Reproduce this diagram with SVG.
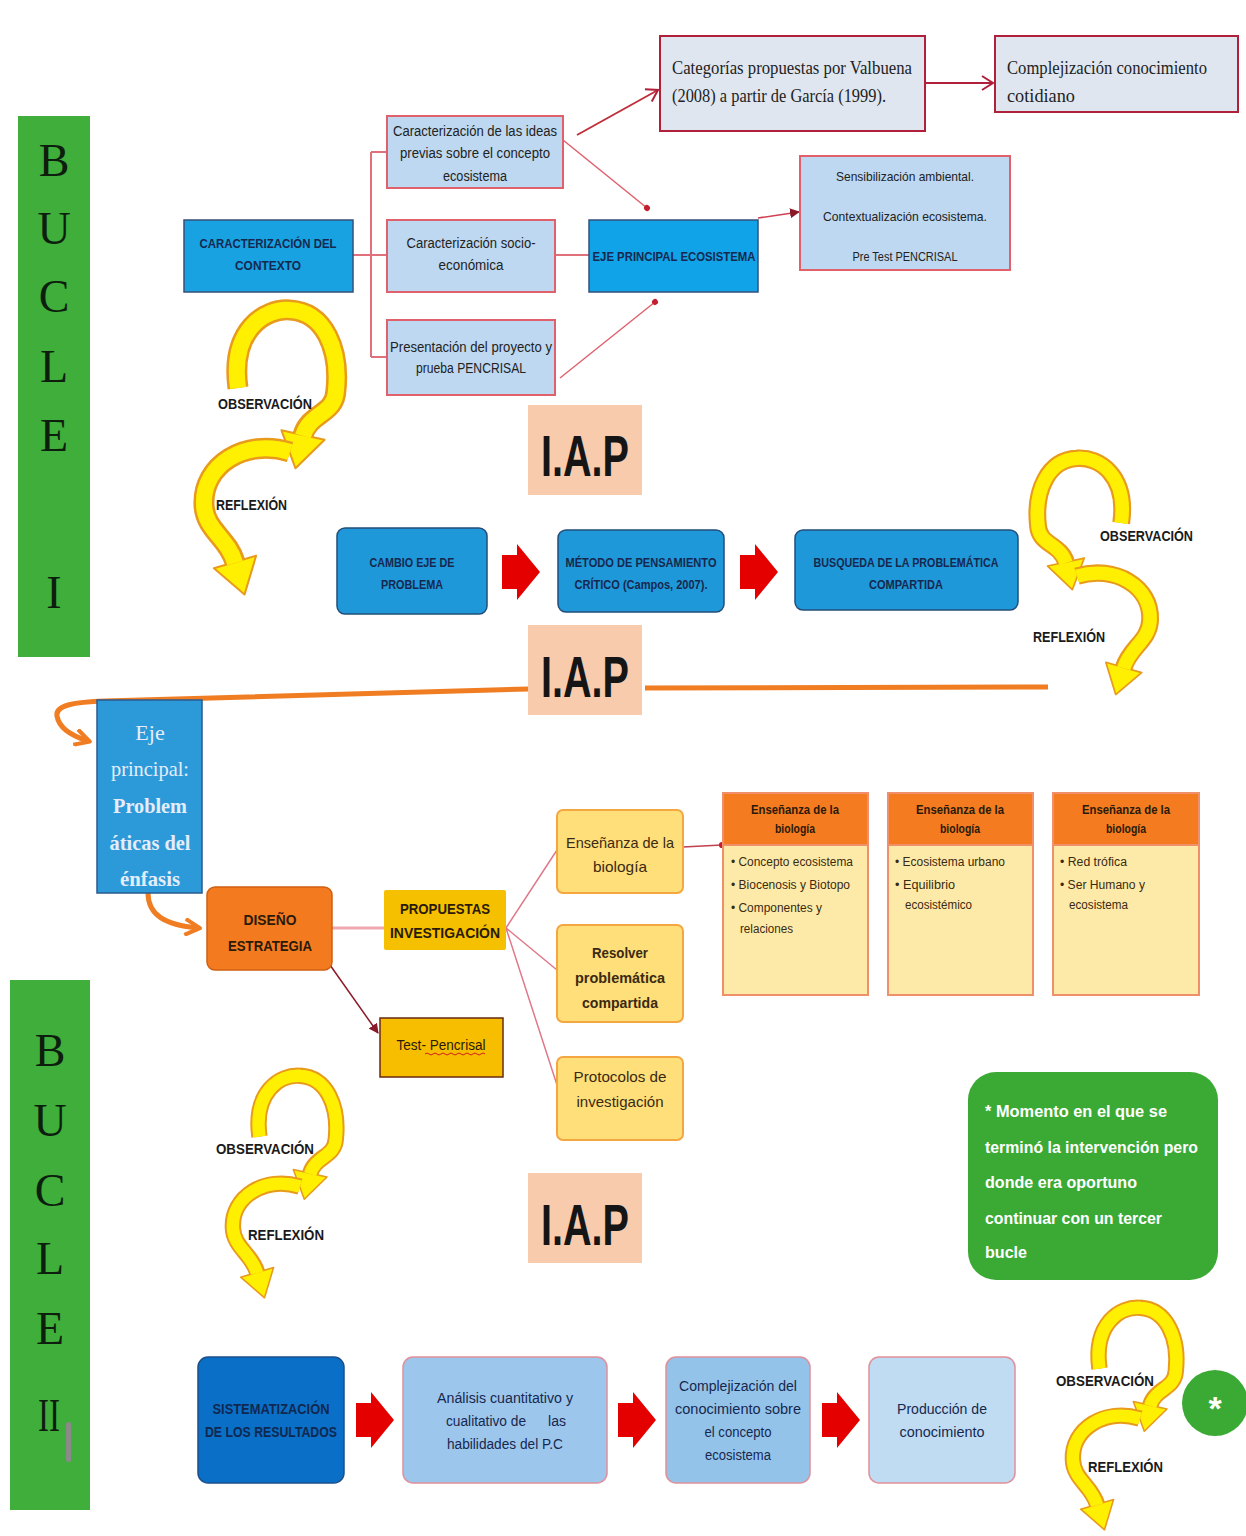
<svg xmlns="http://www.w3.org/2000/svg" width="1246" height="1536" viewBox="0 0 1246 1536">
<style>
.s{font-family:"Liberation Sans",Arial,sans-serif}
.r{font-family:"Liberation Serif","Times New Roman",serif}
.c{text-anchor:middle}
.b{font-weight:bold}
.navy{fill:#16284f}
.dk{fill:#222222}
.brn{fill:#3a2a12}
.lbl{font-family:"Liberation Sans",Arial,sans-serif;font-weight:bold;font-size:15px;fill:#1a1a1a}
.bucle{font-family:"Liberation Serif","Times New Roman",serif;font-size:46px;fill:#0e1e0e;text-anchor:middle}
.iap{font-family:"Liberation Sans",Arial,sans-serif;font-weight:bold;font-size:58px;fill:#151515;text-anchor:middle}
.lb{fill:#bdd8f0;stroke:#e0606c;stroke-width:2}
.bb{fill:#18a2e2;stroke:#35507a;stroke-width:1.5}
.rb{fill:#1e98d8;stroke:#234d7a;stroke-width:1.5}
.yb{fill:#ffdf7a;stroke:#f4a640;stroke-width:2}
.gc{fill:#dfe6f0;stroke:#b0203a;stroke-width:2}
.tree{fill:none;stroke:#e0707a;stroke-width:2}
.pk{fill:none;stroke:#e07888;stroke-width:1.5}
.org{fill:none;stroke:#f07d22;stroke-width:5}
.ol{fill:none;stroke:#e89a1c;stroke-width:21}
.yl{fill:none;stroke:#ffef00;stroke-width:16}
.ah{fill:#ffef00;stroke:#e89a1c;stroke-width:2;stroke-linejoin:round}
</style>
<defs>
<marker id="openArr" markerUnits="userSpaceOnUse" markerWidth="16" markerHeight="16" viewBox="0 0 16 16" refX="13" refY="8" orient="auto">
<path d="M2,1 L13,8 L2,15" fill="none" stroke="#b0203a" stroke-width="2"/>
</marker>
<marker id="dot" markerUnits="userSpaceOnUse" markerWidth="8" markerHeight="8" viewBox="0 0 8 8" refX="4" refY="4" orient="auto">
<circle cx="4" cy="4" r="3" fill="#c02030"/>
</marker>
<marker id="triR" markerUnits="userSpaceOnUse" markerWidth="10" markerHeight="10" viewBox="0 0 10 10" refX="9" refY="5" orient="auto">
<path d="M0,0 L10,5 L0,10 Z" fill="#8a1a2a"/>
</marker>
<marker id="triO" markerUnits="userSpaceOnUse" markerWidth="18" markerHeight="18" viewBox="0 0 18 18" refX="14" refY="9" orient="auto">
<path d="M1,1 L16,9 L1,17" fill="none" stroke="#f07d22" stroke-width="4" stroke-linejoin="round"/>
</marker>
<path id="redArrow" d="M0,11 H15 V0 L38,28 L15,56 V45 H0 Z" fill="#e50000"/>
<g id="cycle">
<path class="ol" d="M48,88 C40,30 75,8 100,10 C135,12 150,50 146,90 C145,115 120,112 113,135"/>
<polygon class="ah" points="134.6,139.8 105.5,168.3 91.4,130.2"/>
<path class="yl" d="M48,88 C40,30 75,8 100,10 C135,12 150,50 146,90 C145,115 120,112 113,136"/>
<path class="ol" d="M100,152 C55,138 12,165 14,205 C15,230 38,238 45,262"/>
<polygon class="ah" points="66.1,255.8 54.5,294.6 23.9,268.2"/>
<path class="yl" d="M100,152 C55,138 12,165 14,205 C15,230 38,238 45,263"/>
</g>
</defs>
<rect width="1246" height="1536" fill="#ffffff"/>

<g id="bucle1">
<rect x="18" y="116" width="72" height="541" fill="#3fae3a"/>
<text class="bucle" x="54" y="176">B</text>
<text class="bucle" x="54" y="244">U</text>
<text class="bucle" x="54" y="312">C</text>
<text class="bucle" x="54" y="382">L</text>
<text class="bucle" x="54" y="451">E</text>
<text class="bucle" x="54" y="608">I</text>
</g>
<g id="bucle2">
<rect x="10" y="980" width="80" height="530" fill="#3fae3a"/>
<text class="bucle" x="50" y="1066">B</text>
<text class="bucle" x="50" y="1136">U</text>
<text class="bucle" x="50" y="1206">C</text>
<text class="bucle" x="50" y="1274">L</text>
<text class="bucle" x="50" y="1344">E</text>
<text class="bucle" x="49" y="1431" textLength="22" lengthAdjust="spacingAndGlyphs">II</text>
<rect x="66" y="1422" width="5" height="40" rx="2" fill="#8a8a8a"/>
</g>

<g id="connectors">
<path class="tree" d="M353,255 H371 M371,152 V357 M371,152 H387 M371,255 H387 M371,357 H387 M555,255 H589"/>
<line x1="577" y1="135" x2="658" y2="90" stroke="#c0303a" stroke-width="2" marker-end="url(#openArr)"/>
<line x1="925" y1="83" x2="993" y2="83" stroke="#b0203a" stroke-width="2" marker-end="url(#openArr)"/>
<line x1="563" y1="140" x2="647" y2="208" stroke="#e0606c" stroke-width="1.5" marker-end="url(#dot)"/>
<line x1="560" y1="378" x2="655" y2="302" stroke="#e0606c" stroke-width="1.5" marker-end="url(#dot)"/>
<line x1="758" y1="218" x2="799" y2="212" stroke="#d04050" stroke-width="1.5" marker-end="url(#triR)"/>
<path class="org" d="M1048,687 L645,688"/>
<path class="org" d="M528,689 L105,701 C75,702 55,705 57,716 C59,728 72,736 88,741" marker-end="url(#triO)"/>
<path class="org" d="M148,893 C148,915 165,925 198,928" marker-end="url(#triO)"/>
<path d="M332,928 H384" fill="none" stroke="#f0a8b0" stroke-width="3"/>
<path class="pk" d="M506,928 L557,850 M506,928 L557,970 M506,928 L557,1085"/>
<line x1="683" y1="847" x2="722" y2="845" stroke="#c04050" stroke-width="1.5" marker-end="url(#dot)"/>
<line x1="330" y1="965" x2="378" y2="1033" stroke="#8a1a2a" stroke-width="1.5" marker-end="url(#triR)"/>
<use href="#redArrow" x="502" y="544"/>
<use href="#redArrow" x="740" y="544"/>
<use href="#redArrow" x="356" y="1392"/>
<use href="#redArrow" x="618" y="1392"/>
<use href="#redArrow" x="822" y="1392"/>
</g>

<g id="n_contexto">
<rect class="bb" x="184" y="220" width="169" height="72"/>
<text class="s b c navy" font-size="13" x="268" y="248" textLength="137" lengthAdjust="spacingAndGlyphs">CARACTERIZACIÓN DEL</text>
<text class="s b c navy" font-size="13" x="268" y="270" textLength="66" lengthAdjust="spacingAndGlyphs">CONTEXTO</text>
</g>
<g id="n_ideas">
<rect class="lb" x="387" y="116" width="176" height="72"/>
<text class="s c dk" font-size="14" x="475" y="136" textLength="164" lengthAdjust="spacingAndGlyphs">Caracterización de las ideas</text>
<text class="s c dk" font-size="14" x="475" y="158" textLength="150" lengthAdjust="spacingAndGlyphs">previas sobre el concepto</text>
<text class="s c dk" font-size="14" x="475" y="181" textLength="64" lengthAdjust="spacingAndGlyphs">ecosistema</text>
</g>
<g id="n_socio">
<rect class="lb" x="387" y="220" width="168" height="72"/>
<text class="s c dk" font-size="14" x="471" y="248" textLength="129" lengthAdjust="spacingAndGlyphs">Caracterización socio-</text>
<text class="s c dk" font-size="14" x="471" y="270" textLength="65" lengthAdjust="spacingAndGlyphs">económica</text>
</g>
<g id="n_presentacion">
<rect class="lb" x="387" y="320" width="168" height="75"/>
<text class="s c dk" font-size="14" x="471" y="352" textLength="162" lengthAdjust="spacingAndGlyphs">Presentación del proyecto y</text>
<text class="s c dk" font-size="14" x="471" y="373" textLength="110" lengthAdjust="spacingAndGlyphs">prueba PENCRISAL</text>
</g>
<g id="n_eje_eco">
<rect class="bb" x="589" y="220" width="169" height="72" style="fill:#10a3e8"/>
<text class="s b c navy" font-size="13" x="674" y="261" textLength="163" lengthAdjust="spacingAndGlyphs">EJE PRINCIPAL ECOSISTEMA</text>
</g>
<g id="n_sensibilizacion">
<rect class="lb" x="800" y="156" width="210" height="114"/>
<text class="s c dk" font-size="13" x="905" y="181" textLength="138" lengthAdjust="spacingAndGlyphs">Sensibilización ambiental.</text>
<text class="s c dk" font-size="13" x="905" y="221" textLength="164" lengthAdjust="spacingAndGlyphs">Contextualización ecosistema.</text>
<text class="s c dk" font-size="13" x="905" y="261" textLength="105" lengthAdjust="spacingAndGlyphs">Pre Test PENCRISAL</text>
</g>
<g id="n_categorias">
<rect class="gc" x="660" y="36" width="265" height="95"/>
<text class="r dk" font-size="19" x="672" y="74" textLength="240" lengthAdjust="spacingAndGlyphs">Categorías propuestas por Valbuena</text>
<text class="r dk" font-size="19" x="672" y="102" textLength="214" lengthAdjust="spacingAndGlyphs">(2008) a partir de García (1999).</text>
</g>
<g id="n_complejizacion_cot">
<rect class="gc" x="995" y="36" width="243" height="76"/>
<text class="r dk" font-size="19" x="1007" y="74" textLength="200" lengthAdjust="spacingAndGlyphs">Complejización conocimiento</text>
<text class="r dk" font-size="19" x="1007" y="102" textLength="68" lengthAdjust="spacingAndGlyphs">cotidiano</text>
</g>

<g id="cycle1">
<use href="#cycle" transform="translate(190,300)"/>
<text class="lbl" x="218" y="409" textLength="94" lengthAdjust="spacingAndGlyphs">OBSERVACIÓN</text>
<text class="lbl" x="216" y="510" textLength="71" lengthAdjust="spacingAndGlyphs">REFLEXIÓN</text>
</g>
<g id="cycle2">
<use href="#cycle" transform="translate(1162,450) scale(-0.85,0.83)"/>
<text class="lbl" x="1100" y="541" textLength="93" lengthAdjust="spacingAndGlyphs">OBSERVACIÓN</text>
<text class="lbl" x="1033" y="642" textLength="72" lengthAdjust="spacingAndGlyphs">REFLEXIÓN</text>
</g>
<g id="cycle3">
<use href="#cycle" transform="translate(222,1068) scale(0.78)"/>
<text class="lbl" x="216" y="1154" textLength="98" lengthAdjust="spacingAndGlyphs">OBSERVACIÓN</text>
<text class="lbl" x="248" y="1240" textLength="76" lengthAdjust="spacingAndGlyphs">REFLEXIÓN</text>
</g>
<g id="cycle4">
<use href="#cycle" transform="translate(1062,1300) scale(0.78)"/>
<text class="lbl" x="1056" y="1386" textLength="98" lengthAdjust="spacingAndGlyphs">OBSERVACIÓN</text>
<text class="lbl" x="1088" y="1472" textLength="75" lengthAdjust="spacingAndGlyphs">REFLEXIÓN</text>
</g>

<g id="iap1">
<rect x="528" y="405" width="114" height="90" fill="#f8cbad"/>
<text class="iap" x="585" y="476" textLength="88" lengthAdjust="spacingAndGlyphs">I.A.P</text>
</g>
<g id="iap2">
<rect x="528" y="625" width="114" height="90" fill="#f8cbad"/>
<text class="iap" x="585" y="697" textLength="88" lengthAdjust="spacingAndGlyphs">I.A.P</text>
</g>
<g id="iap3">
<rect x="528" y="1173" width="114" height="90" fill="#f8cbad"/>
<text class="iap" x="585" y="1245" textLength="88" lengthAdjust="spacingAndGlyphs">I.A.P</text>
</g>

<g id="n_cambio">
<rect class="rb" x="337" y="528" width="150" height="86" rx="8"/>
<text class="s b c navy" font-size="12" x="412" y="567" textLength="85" lengthAdjust="spacingAndGlyphs">CAMBIO EJE DE</text>
<text class="s b c navy" font-size="12" x="412" y="589" textLength="62" lengthAdjust="spacingAndGlyphs">PROBLEMA</text>
</g>
<g id="n_metodo">
<rect class="rb" x="558" y="530" width="166" height="82" rx="8"/>
<text class="s b c navy" font-size="12" x="641" y="567" textLength="151" lengthAdjust="spacingAndGlyphs">MÉTODO DE PENSAMIENTO</text>
<text class="s b c navy" font-size="12" x="641" y="589" textLength="133" lengthAdjust="spacingAndGlyphs">CRÍTICO (Campos, 2007).</text>
</g>
<g id="n_busqueda">
<rect class="rb" x="795" y="530" width="223" height="80" rx="8"/>
<text class="s b c navy" font-size="12" x="906" y="567" textLength="185" lengthAdjust="spacingAndGlyphs">BUSQUEDA DE LA PROBLEMÁTICA</text>
<text class="s b c navy" font-size="12" x="906" y="589" textLength="74" lengthAdjust="spacingAndGlyphs">COMPARTIDA</text>
</g>

<g id="n_eje_principal">
<rect x="97" y="700" width="105" height="193" fill="#2c9ad9" stroke="#2a5a90" stroke-width="1.5"/>
<text class="r c" fill="#e4edf9" font-size="22" x="150" y="740">Eje</text>
<text class="r c" fill="#e4edf9" font-size="22" x="150" y="776" textLength="78" lengthAdjust="spacingAndGlyphs">principal:</text>
<text class="r b c" fill="#e4edf9" font-size="22" x="150" y="813" textLength="74" lengthAdjust="spacingAndGlyphs">Problem</text>
<text class="r b c" fill="#e4edf9" font-size="22" x="150" y="850" textLength="81" lengthAdjust="spacingAndGlyphs">áticas del</text>
<text class="r b c" fill="#e4edf9" font-size="22" x="150" y="886" textLength="60" lengthAdjust="spacingAndGlyphs">énfasis</text>
</g>

<g id="n_diseno">
<rect x="207" y="887" width="125" height="83" rx="8" fill="#f47a20" stroke="#d06010" stroke-width="1.5"/>
<text class="s b c" fill="#2a1a0a" font-size="14" x="270" y="925" textLength="53" lengthAdjust="spacingAndGlyphs">DISEÑO</text>
<text class="s b c" fill="#2a1a0a" font-size="14" x="270" y="951" textLength="84" lengthAdjust="spacingAndGlyphs">ESTRATEGIA</text>
</g>
<g id="n_propuestas">
<rect x="384" y="890" width="122" height="60" rx="2" fill="#f5c000"/>
<text class="s b c" fill="#2a1a0a" font-size="14" x="445" y="914" textLength="90" lengthAdjust="spacingAndGlyphs">PROPUESTAS</text>
<text class="s b c" fill="#2a1a0a" font-size="14" x="445" y="938" textLength="110" lengthAdjust="spacingAndGlyphs">INVESTIGACIÓN</text>
</g>
<g id="n_test">
<rect x="380" y="1018" width="123" height="59" fill="#f7be00" stroke="#6a2a10" stroke-width="1.5"/>
<text class="s c" fill="#2a1a0a" font-size="14" x="441" y="1050" textLength="89" lengthAdjust="spacingAndGlyphs">Test- Pencrisal</text>
<path d="M425,1054 q2,-2 4,0 t4,0 t4,0 t4,0 t4,0 t4,0 t4,0 t4,0 t4,0 t4,0 t4,0 t4,0 t4,0 t4,0 t4,0" fill="none" stroke="#d02020" stroke-width="1"/>
</g>

<g id="n_ensenanza">
<rect class="yb" x="557" y="810" width="126" height="83" rx="6"/>
<text class="s c brn" font-size="15" x="620" y="848" textLength="108" lengthAdjust="spacingAndGlyphs">Enseñanza de la</text>
<text class="s c brn" font-size="15" x="620" y="872" textLength="54" lengthAdjust="spacingAndGlyphs">biología</text>
</g>
<g id="n_resolver">
<rect class="yb" x="557" y="925" width="126" height="97" rx="6"/>
<text class="s b c brn" font-size="15" x="620" y="958" textLength="56" lengthAdjust="spacingAndGlyphs">Resolver</text>
<text class="s b c brn" font-size="15" x="620" y="983" textLength="90" lengthAdjust="spacingAndGlyphs">problemática</text>
<text class="s b c brn" font-size="15" x="620" y="1008" textLength="76" lengthAdjust="spacingAndGlyphs">compartida</text>
</g>
<g id="n_protocolos">
<rect class="yb" x="557" y="1057" width="126" height="83" rx="6"/>
<text class="s c brn" font-size="15" x="620" y="1082" textLength="93" lengthAdjust="spacingAndGlyphs">Protocolos de</text>
<text class="s c brn" font-size="15" x="620" y="1107" textLength="87" lengthAdjust="spacingAndGlyphs">investigación</text>
</g>

<g id="t1">
<rect x="723" y="793" width="145" height="202" fill="#feeaa8" stroke="#f0906a" stroke-width="2"/>
<rect x="723" y="793" width="145" height="52" fill="#f47b20" stroke="#f0906a" stroke-width="2"/>
<text class="s b c" fill="#2a1a0a" font-size="12" x="795" y="814" textLength="88" lengthAdjust="spacingAndGlyphs">Enseñanza de la</text>
<text class="s b c" fill="#2a1a0a" font-size="12" x="795" y="833" textLength="40" lengthAdjust="spacingAndGlyphs">biología</text>
<text class="s brn" font-size="12" x="731" y="866" textLength="122" lengthAdjust="spacingAndGlyphs">• Concepto ecosistema</text>
<text class="s brn" font-size="12" x="731" y="889" textLength="119" lengthAdjust="spacingAndGlyphs">• Biocenosis y Biotopo</text>
<text class="s brn" font-size="12" x="731" y="912" textLength="91" lengthAdjust="spacingAndGlyphs">• Componentes y</text>
<text class="s brn" font-size="12" x="740" y="933" textLength="53" lengthAdjust="spacingAndGlyphs">relaciones</text>
</g>
<g id="t2">
<rect x="888" y="793" width="145" height="202" fill="#feeaa8" stroke="#f0906a" stroke-width="2"/>
<rect x="888" y="793" width="145" height="52" fill="#f47b20" stroke="#f0906a" stroke-width="2"/>
<text class="s b c" fill="#2a1a0a" font-size="12" x="960" y="814" textLength="88" lengthAdjust="spacingAndGlyphs">Enseñanza de la</text>
<text class="s b c" fill="#2a1a0a" font-size="12" x="960" y="833" textLength="40" lengthAdjust="spacingAndGlyphs">biología</text>
<text class="s brn" font-size="12" x="895" y="866" textLength="110" lengthAdjust="spacingAndGlyphs">• Ecosistema urbano</text>
<text class="s brn" font-size="12" x="895" y="889" textLength="60" lengthAdjust="spacingAndGlyphs">• Equilibrio</text>
<text class="s brn" font-size="12" x="905" y="909" textLength="67" lengthAdjust="spacingAndGlyphs">ecosistémico</text>
</g>
<g id="t3">
<rect x="1053" y="793" width="146" height="202" fill="#feeaa8" stroke="#f0906a" stroke-width="2"/>
<rect x="1053" y="793" width="146" height="52" fill="#f47b20" stroke="#f0906a" stroke-width="2"/>
<text class="s b c" fill="#2a1a0a" font-size="12" x="1126" y="814" textLength="88" lengthAdjust="spacingAndGlyphs">Enseñanza de la</text>
<text class="s b c" fill="#2a1a0a" font-size="12" x="1126" y="833" textLength="40" lengthAdjust="spacingAndGlyphs">biología</text>
<text class="s brn" font-size="12" x="1060" y="866" textLength="67" lengthAdjust="spacingAndGlyphs">• Red trófica</text>
<text class="s brn" font-size="12" x="1060" y="889" textLength="85" lengthAdjust="spacingAndGlyphs">• Ser Humano y</text>
<text class="s brn" font-size="12" x="1069" y="909" textLength="59" lengthAdjust="spacingAndGlyphs">ecosistema</text>
</g>

<g id="n_nota">
<rect x="968" y="1072" width="250" height="208" rx="28" fill="#3aaa35"/>
<text class="s b" fill="#ffffff" font-size="17" x="985" y="1117" textLength="182" lengthAdjust="spacingAndGlyphs">* Momento en el que se</text>
<text class="s b" fill="#ffffff" font-size="17" x="985" y="1153" textLength="213" lengthAdjust="spacingAndGlyphs">terminó la intervención pero</text>
<text class="s b" fill="#ffffff" font-size="17" x="985" y="1188" textLength="152" lengthAdjust="spacingAndGlyphs">donde era oportuno</text>
<text class="s b" fill="#ffffff" font-size="17" x="985" y="1224" textLength="177" lengthAdjust="spacingAndGlyphs">continuar con un tercer</text>
<text class="s b" fill="#ffffff" font-size="17" x="985" y="1258" textLength="42" lengthAdjust="spacingAndGlyphs">bucle</text>
</g>

<g id="n_sistematizacion">
<rect x="198" y="1357" width="146" height="126" rx="10" fill="#0a6fc6" stroke="#1d4f8a" stroke-width="1.5"/>
<text class="s b c" fill="#102850" font-size="14" x="271" y="1414" textLength="117" lengthAdjust="spacingAndGlyphs">SISTEMATIZACIÓN</text>
<text class="s b c" fill="#102850" font-size="14" x="271" y="1437" textLength="132" lengthAdjust="spacingAndGlyphs">DE LOS RESULTADOS</text>
</g>
<g id="n_analisis">
<rect x="403" y="1357" width="204" height="126" rx="10" fill="#9dc6ec" stroke="#e0909a" stroke-width="1.5"/>
<text class="s c navy" font-size="14" x="505" y="1403" textLength="136" lengthAdjust="spacingAndGlyphs">Análisis cuantitativo y</text>
<text class="s navy" font-size="14" y="1426"><tspan x="446" textLength="80" lengthAdjust="spacingAndGlyphs">cualitativo de</tspan><tspan x="548" textLength="18" lengthAdjust="spacingAndGlyphs">las</tspan></text>
<text class="s c navy" font-size="14" x="505" y="1449" textLength="116" lengthAdjust="spacingAndGlyphs">habilidades del P.C</text>
</g>
<g id="n_complejizacion">
<rect x="666" y="1357" width="144" height="126" rx="10" fill="#94c3ea" stroke="#e0909a" stroke-width="1.5"/>
<text class="s c navy" font-size="14" x="738" y="1391" textLength="118" lengthAdjust="spacingAndGlyphs">Complejización del</text>
<text class="s c navy" font-size="14" x="738" y="1414" textLength="126" lengthAdjust="spacingAndGlyphs">conocimiento sobre</text>
<text class="s c navy" font-size="14" x="738" y="1437" textLength="67" lengthAdjust="spacingAndGlyphs">el concepto</text>
<text class="s c navy" font-size="14" x="738" y="1460" textLength="66" lengthAdjust="spacingAndGlyphs">ecosistema</text>
</g>
<g id="n_produccion">
<rect x="869" y="1357" width="146" height="126" rx="10" fill="#c0dcf3" stroke="#e0909a" stroke-width="1.5"/>
<text class="s c navy" font-size="14" x="942" y="1414" textLength="90" lengthAdjust="spacingAndGlyphs">Producción de</text>
<text class="s c navy" font-size="14" x="942" y="1437" textLength="85" lengthAdjust="spacingAndGlyphs">conocimiento</text>
</g>
<g id="n_asterisco">
<circle cx="1215" cy="1403" r="33" fill="#3aaa35"/>
<text class="s b c" fill="#ffffff" font-size="34" x="1215" y="1420">*</text>
</g>
</svg>
